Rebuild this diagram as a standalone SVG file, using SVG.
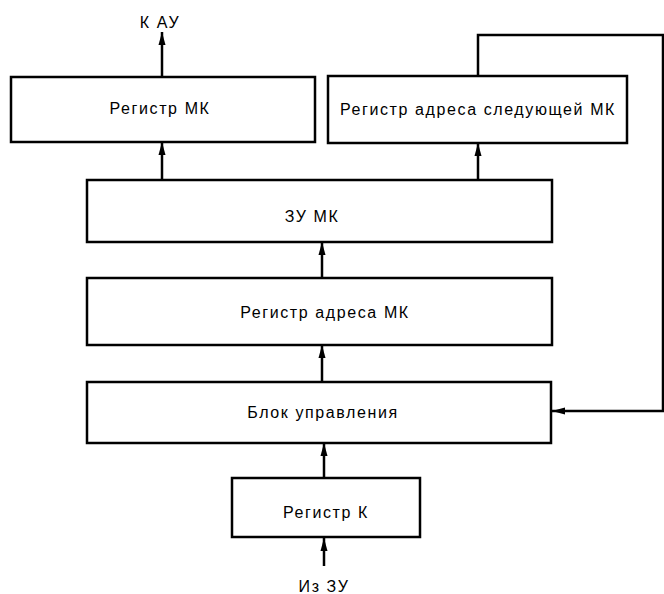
<svg xmlns="http://www.w3.org/2000/svg" width="664" height="594" viewBox="0 0 664 594">
  <style>
    .box { fill: #ffffff; stroke: #000000; stroke-width: 2.5; }
    .lbl { font-family: "Liberation Sans", Arial, sans-serif; font-size: 16px; letter-spacing: 1.6px; fill: #000000; text-anchor: middle; }
    .wire { fill: none; stroke: #000000; stroke-width: 2.5; }
  </style>
  <defs>
    <marker id="arr" markerUnits="userSpaceOnUse" markerWidth="14" markerHeight="10" refX="13" refY="5" orient="auto">
      <path d="M0,1.5 L13,5 L0,8.5 Z" fill="#000000"/>
    </marker>
  </defs>
  <rect width="664" height="594" fill="#ffffff"/>

  <g id="connectors">
    <line class="wire" x1="162" y1="77" x2="162" y2="32" marker-end="url(#arr)"/>
    <line class="wire" x1="162" y1="180" x2="162" y2="142" marker-end="url(#arr)"/>
    <line class="wire" x1="478" y1="180" x2="478" y2="143" marker-end="url(#arr)"/>
    <polyline class="wire" points="478,76 478,35 663,35 663,411 552,411" marker-end="url(#arr)"/>
    <line class="wire" x1="322" y1="278" x2="322" y2="242" marker-end="url(#arr)"/>
    <line class="wire" x1="322" y1="382" x2="322" y2="345" marker-end="url(#arr)"/>
    <line class="wire" x1="324" y1="478" x2="324" y2="443" marker-end="url(#arr)"/>
    <line class="wire" x1="324" y1="566" x2="324" y2="538" marker-end="url(#arr)"/>
  </g>

  <g id="label-kau">
    <text class="lbl" x="160" y="28">К АУ</text>
  </g>

  <g id="reg-mk">
    <rect class="box" x="11" y="77" width="304" height="65"/>
    <text class="lbl" x="160" y="114">Регистр МК</text>
  </g>

  <g id="reg-next-addr">
    <rect class="box" x="328" y="76" width="299" height="67"/>
    <text class="lbl" x="478" y="115">Регистр адреса следующей МК</text>
  </g>

  <g id="zu-mk">
    <rect class="box" x="87" y="180" width="465" height="62"/>
    <text class="lbl" x="312" y="222">ЗУ МК</text>
  </g>

  <g id="reg-addr-mk">
    <rect class="box" x="87" y="278" width="465" height="67"/>
    <text class="lbl" x="325" y="318">Регистр адреса МК</text>
  </g>

  <g id="control-unit">
    <rect class="box" x="87" y="382" width="464" height="61"/>
    <text class="lbl" x="323" y="418">Блок управления</text>
  </g>

  <g id="reg-k">
    <rect class="box" x="232" y="478" width="188" height="59"/>
    <text class="lbl" x="326" y="518">Регистр К</text>
  </g>

  <g id="label-from-zu">
    <text class="lbl" x="324" y="592">Из ЗУ</text>
  </g>
</svg>
